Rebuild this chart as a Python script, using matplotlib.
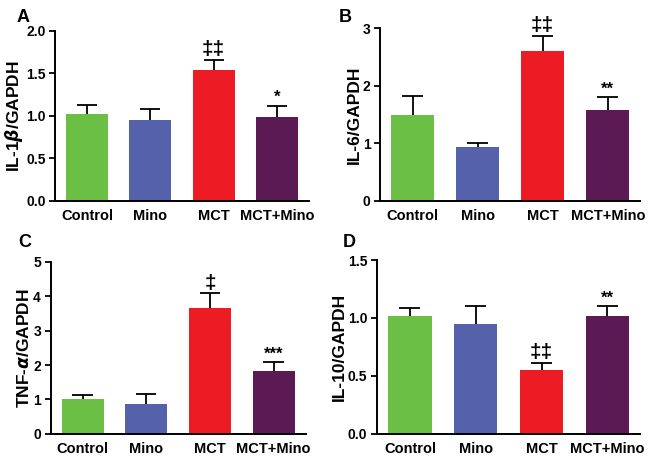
import matplotlib.pyplot as plt
import numpy as np

plt.rcParams['font.family'] = ['Liberation Sans', 'DejaVu Sans']
plt.rcParams['font.weight'] = 'bold'
plt.rcParams['mathtext.fontset'] = 'dejavusans'

groups = ["Control", "Mino", "MCT", "MCT+Mino"]
colors = ["#6cbf45", "#5561aa", "#ed1c24", "#5c1a55"]

# mean and upper error (SEM) for each panel
il1b = [1.02, 0.95, 1.54, 0.99]
il1b_err = [0.11, 0.13, 0.12, 0.13]
il6 = [1.50, 0.93, 2.60, 1.58]
il6_err = [0.32, 0.08, 0.26, 0.22]
tnfa = [1.02, 0.88, 3.65, 1.82]
tnfa_err = [0.11, 0.27, 0.43, 0.26]
il10 = [1.02, 0.95, 0.55, 1.02]
il10_err = [0.07, 0.15, 0.06, 0.08]

panels = [
    ("A", r"IL-1$\beta$/GAPDH", il1b, il1b_err, 2.0, [0, 0.5, 1.0, 1.5, 2.0], "{:.1f}",
     ["", "", "‡‡", "*"], [0.085, 0.564, 0.390, 0.369], (0.026, 0.963)),
    ("B", "IL-6/GAPDH", il6, il6_err, 3, [0, 1, 2, 3], "{:.0f}",
     ["", "", "‡‡", "**"], [0.585, 0.564, 0.400, 0.375], (0.521, 0.963)),
    ("C", r"TNF-$\alpha$/GAPDH", tnfa, tnfa_err, 5, [0, 1, 2, 3, 4, 5], "{:.0f}",
     ["", "", "‡", "***"], [0.078, 0.059, 0.392, 0.373], (0.028, 0.473)),
    ("D", "IL-10/GAPDH", il10, il10_err, 1.5, [0, 0.5, 1.0, 1.5], "{:.1f}",
     ["", "", "‡‡", "**"], [0.580, 0.059, 0.405, 0.377], (0.527, 0.473)),
]

fig = plt.figure(figsize=(6.5, 4.61), dpi=100)
x = np.arange(len(groups))

for letter, ylabel, vals, errs, ymax, ticks, fmt, marks, pos, lpos in panels:
    ax = fig.add_axes(pos)
    vals = np.array(vals)
    errs = np.array(errs)
    top = vals + errs
    ax.bar(x, vals, width=0.66, color=colors, zorder=2)
    # upper-only error bars (line goes behind the bar)
    ax.vlines(x, vals * 0.9, top, color="black", linewidth=1.3, zorder=1)
    ax.hlines(top, x - 0.16, x + 0.16, color="black", linewidth=1.3, zorder=1)
    for xi, t, m in zip(x, top, marks):
        if m:
            size = 15 if "‡" in m else 12
            ax.text(xi, t + ymax * 0.005, m, ha="center", va="bottom",
                    fontsize=size, fontweight="bold")
    ax.set_xlim(-0.5, 3.5)
    ax.set_ylim(0, ymax)
    ax.set_yticks(ticks)
    ax.set_yticklabels([fmt.format(t) for t in ticks])
    ax.set_xticks(x)
    ax.set_xticklabels(groups)
    ax.tick_params(axis="x", length=0, pad=6, labelsize=10.5)
    ax.tick_params(axis="y", length=4, width=1.3, labelsize=10, pad=3)
    ax.spines["top"].set_visible(False)
    ax.spines["right"].set_visible(False)
    ax.spines["left"].set_linewidth(1.4)
    ax.spines["bottom"].set_linewidth(1.4)
    ax.set_ylabel(ylabel, fontsize=12.5, fontweight="bold", labelpad=1)
    fig.text(lpos[0], lpos[1], letter, fontsize=13, fontweight="bold",
             ha="left", va="center")

fig.savefig("out.png", dpi=100)
